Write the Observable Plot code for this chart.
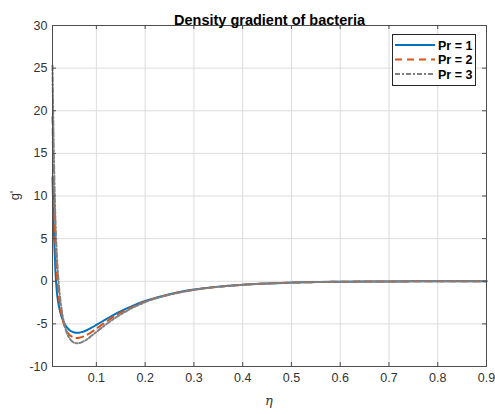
<!DOCTYPE html>
<html>
<head>
<meta charset="utf-8">
<script src="https://cdn.jsdelivr.net/npm/d3@7"></script>
<script src="https://cdn.jsdelivr.net/npm/@observablehq/plot@0.6"></script>
<style>
  html, body { margin: 0; padding: 0; background: #fff; }
  #chart { width: 495px; height: 414px; }
</style>
</head>
<body>
<div id="chart"></div>
<script>
const eta = [0.01,0.012,0.014,0.016,0.018,0.02,0.025,0.03,0.035,0.04,0.045,0.05,0.055,0.06,0.065,0.07,0.08,0.09,0.1,0.12,0.14,0.16,0.18,0.2,0.25,0.3,0.35,0.4,0.45,0.5,0.6,0.7,0.8,0.9];
const pr1 = [12.2,7.5,4.0,1.2,-0.6,-1.8,-3.4,-4.4,-5.0,-5.45,-5.75,-5.92,-6.02,-6.05,-6.03,-5.97,-5.75,-5.45,-5.12,-4.45,-3.8,-3.25,-2.75,-2.32,-1.52,-0.98,-0.63,-0.4,-0.25,-0.16,-0.06,-0.02,-0.01,0];
const pr2 = [19.3,12.5,7.8,4.3,1.8,0,-2.7,-4.3,-5.3,-5.95,-6.3,-6.5,-6.62,-6.65,-6.62,-6.55,-6.3,-5.95,-5.55,-4.75,-4.0,-3.4,-2.85,-2.38,-1.55,-1.0,-0.64,-0.41,-0.26,-0.16,-0.06,-0.02,-0.01,0];
const pr3 = [25.3,17.5,11.5,7.2,4.2,2.0,-1.6,-3.8,-5.2,-6.15,-6.7,-7.05,-7.22,-7.28,-7.25,-7.15,-6.85,-6.4,-5.95,-5.05,-4.25,-3.55,-2.95,-2.45,-1.58,-1.02,-0.65,-0.42,-0.26,-0.16,-0.06,-0.02,-0.01,0];
const seriesNames = ["Pr = 1", "Pr = 2", "Pr = 3"];
const seriesValues = [pr1, pr2, pr3];
const colors = ["#0072BD", "#D95319", "#808080"];
const dashes = [null, "7,5", "5,2,2,2"];
const xTicks = [0.1,0.2,0.3,0.4,0.5,0.6,0.7,0.8,0.9];
const yTicks = [-10,-5,0,5,10,15,20,25,30];
const titleText = "Density gradient of bacteria";

const W = 495, H = 414;
const mL = 52, mR = 9, mT = 25, mB = 48;
const fw = W - mL - mR, fh = H - mT - mB;
const tl = 4;
const sans = "'Liberation Sans', Arial, sans-serif";

const lineMarks = seriesValues.map((vals, i) =>
  Plot.line(eta.map((e, j) => ({x: e, y: vals[j]})), {
    x: "x", y: "y", stroke: colors[i], strokeWidth: 2,
    strokeDasharray: dashes[i], curve: "monotone-x"
  })
);

const axisColor = "#333";
const plot = Plot.plot({
  width: W, height: H,
  marginLeft: mL, marginRight: mR, marginTop: mT, marginBottom: mB,
  style: {fontFamily: sans, fontSize: "12.5px", color: axisColor, background: "#fff", overflow: "visible"},
  x: {domain: [0.01, 0.9]},
  y: {domain: [-10, 30]},
  marks: [
    Plot.gridX(xTicks, {stroke: "#dcdcdc", strokeOpacity: 1}),
    Plot.gridY(yTicks, {stroke: "#dcdcdc", strokeOpacity: 1}),
    ...lineMarks,
    Plot.frame({stroke: "#4d4d4d", strokeWidth: 1}),
    Plot.tickX(xTicks, {x: d => d, insetTop: fh - tl, stroke: "#4d4d4d"}),
    Plot.tickX(xTicks, {x: d => d, insetBottom: fh - tl, stroke: "#4d4d4d"}),
    Plot.tickY(yTicks, {y: d => d, insetRight: fw - tl, stroke: "#4d4d4d"}),
    Plot.tickY(yTicks, {y: d => d, insetLeft: fw - tl, stroke: "#4d4d4d"}),
    Plot.axisX(xTicks, {tickSize: 0, tickPadding: 7, fontSize: 12.5, tickFormat: d => String(d), label: null, fill: axisColor}),
    Plot.axisY(yTicks, {tickSize: 0, tickPadding: 5, fontSize: 12.5, tickFormat: d => String(d), label: null, fill: axisColor}),
    Plot.text([titleText], {frameAnchor: "top", dy: -11, fontWeight: "bold", fontSize: 14.5, fill: "#000"})
  ]
});
document.getElementById("chart").appendChild(plot);

const svg = d3.select(plot);
// axis labels
svg.append("text")
  .attr("x", mL + fw / 2).attr("y", 405)
  .attr("text-anchor", "middle")
  .attr("font-family", "'DejaVu Serif', 'Liberation Serif', serif")
  .attr("font-style", "italic").attr("font-size", 13).attr("fill", axisColor)
  .text("η");
svg.append("text")
  .attr("transform", `translate(19,${mT + fh / 2}) rotate(-90)`)
  .attr("text-anchor", "middle")
  .attr("font-family", sans)
  .attr("font-size", 13).attr("fill", axisColor)
  .text("g'");

// legend
const lg = svg.append("g");
lg.append("rect").attr("x", 392.5).attr("y", 34.5).attr("width", 83).attr("height", 51)
  .attr("fill", "#fff").attr("stroke", "#262626").attr("stroke-width", 1);
seriesNames.forEach((name, i) => {
  const yy = 45 + i * 14.5;
  lg.append("line").attr("x1", 395).attr("x2", 435).attr("y1", yy).attr("y2", yy)
    .attr("stroke", colors[i]).attr("stroke-width", 2)
    .attr("stroke-dasharray", dashes[i]);
  lg.append("text").attr("x", 438).attr("y", yy + 4.5)
    .attr("text-anchor", "start")
    .attr("font-family", sans)
    .attr("font-weight", "bold").attr("font-size", 12.5).attr("fill", "#000")
    .text(name);
});
</script>
</body>
</html>
